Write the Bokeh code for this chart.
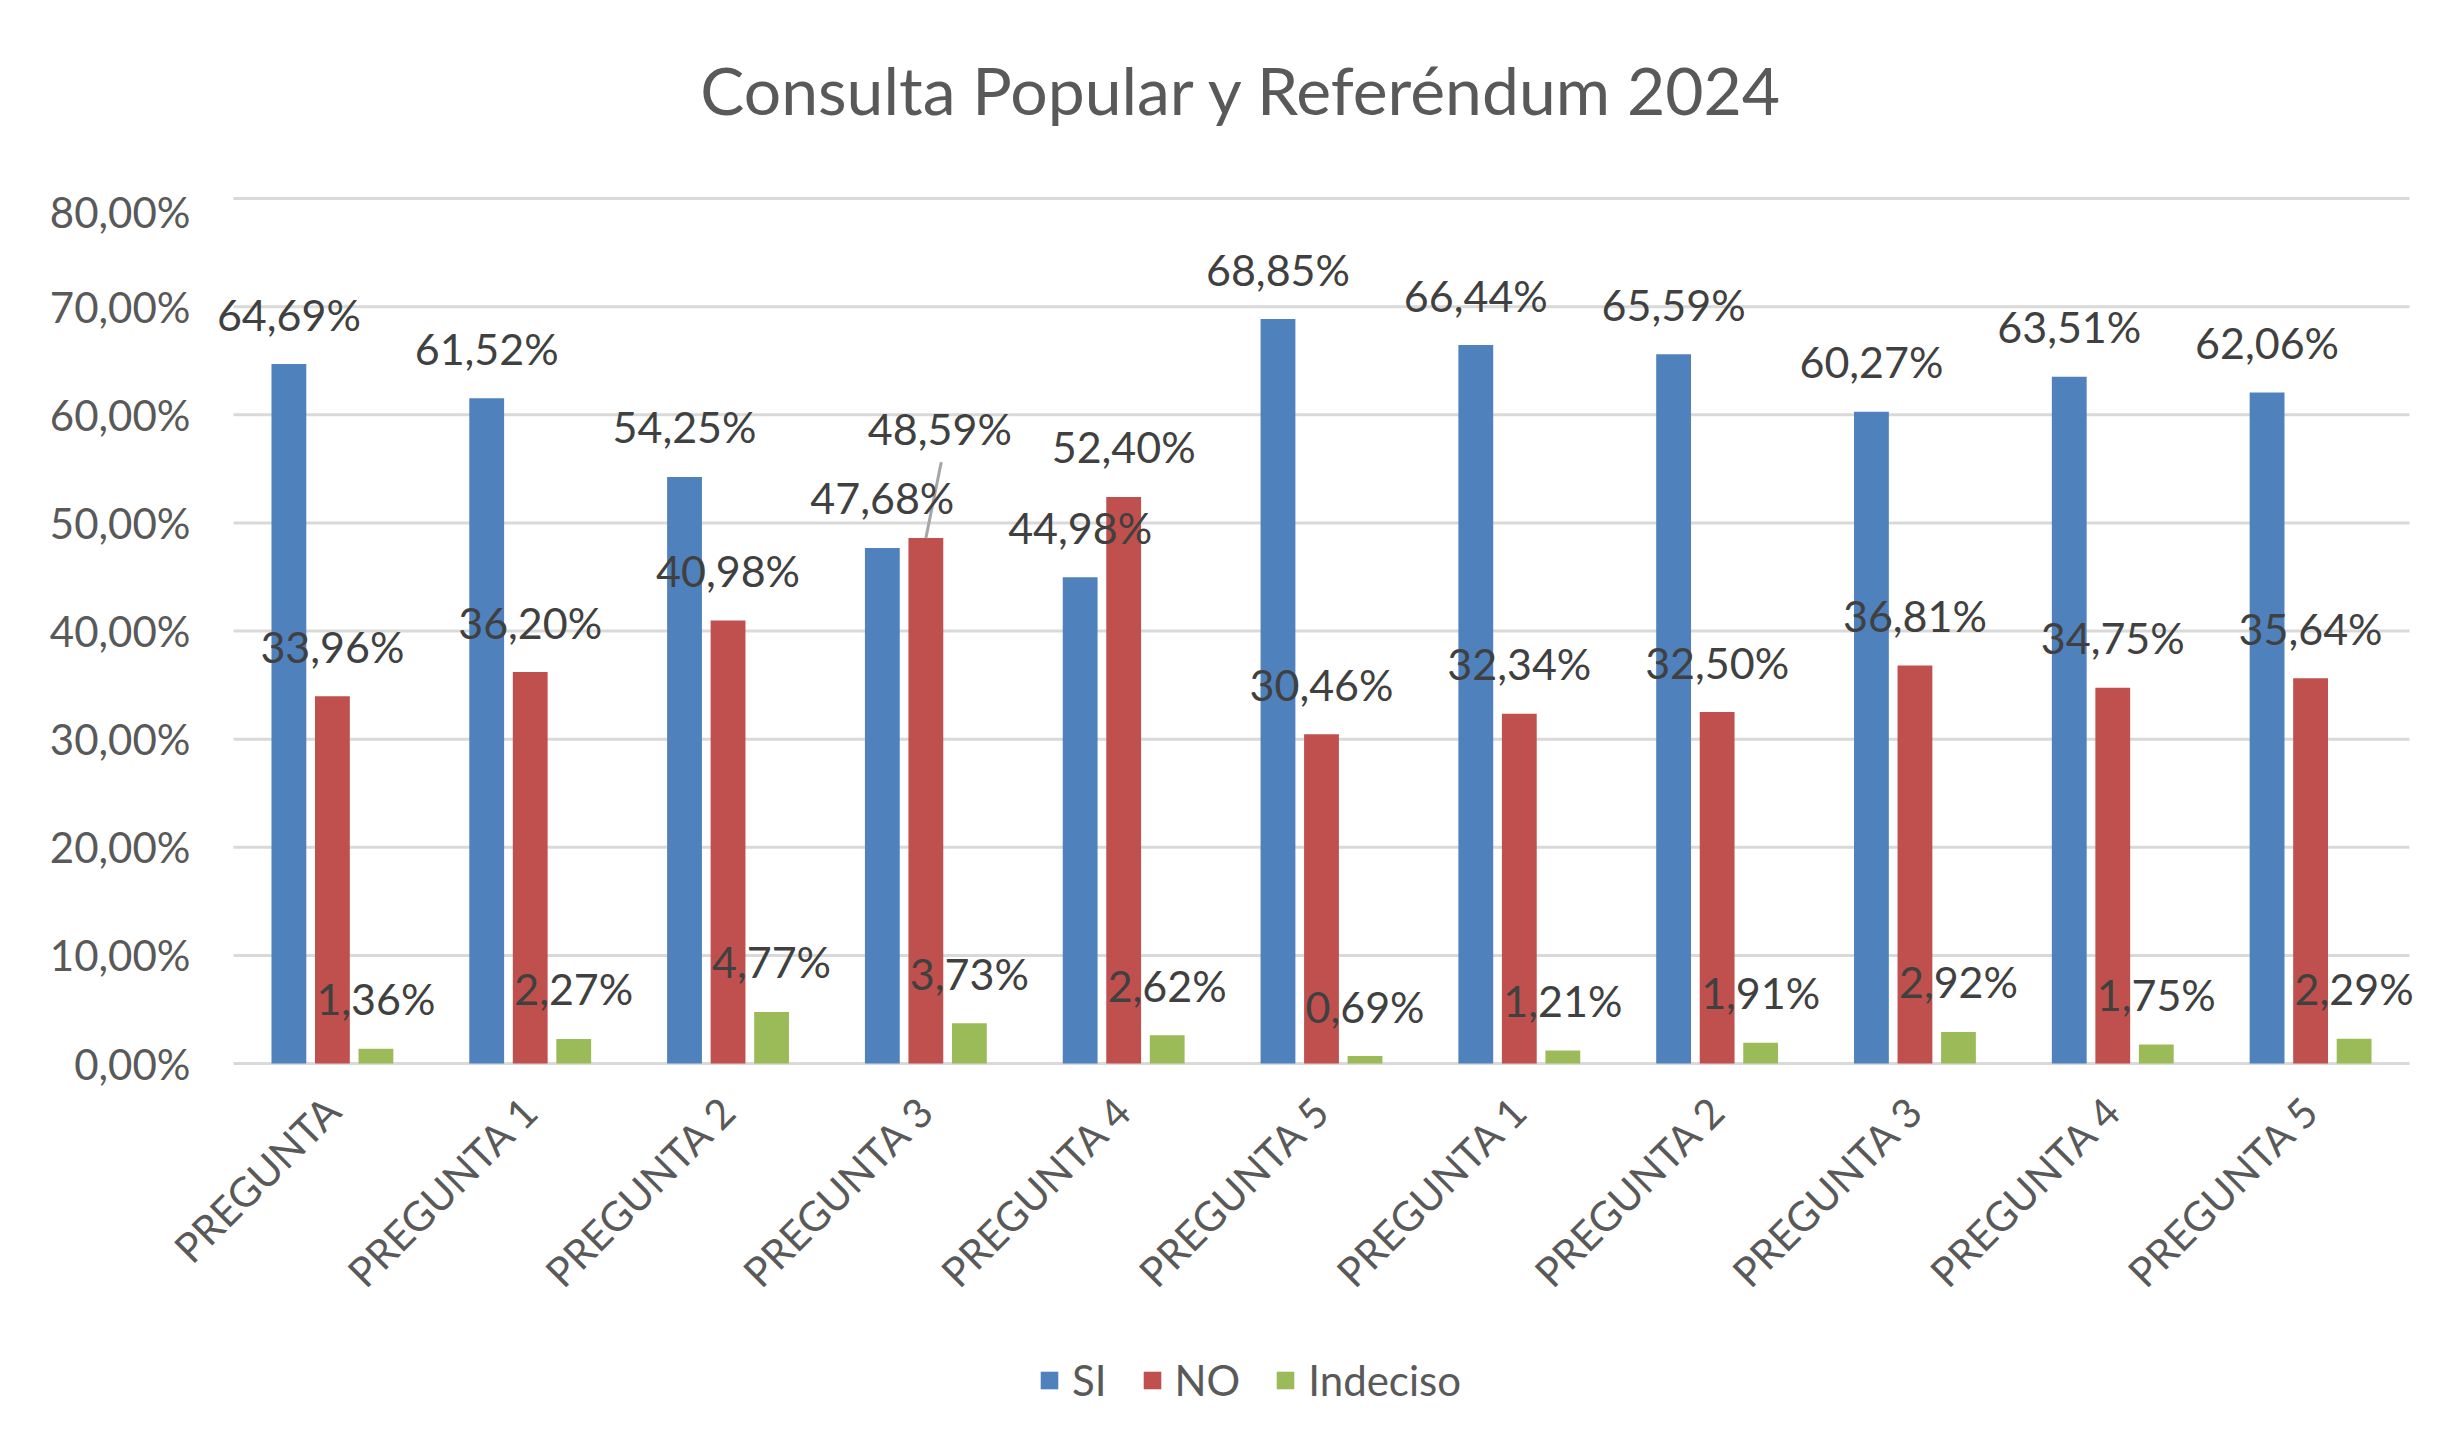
import math
from bokeh.plotting import figure
from bokeh.layouts import column
from bokeh.models import (ColumnDataSource, LabelSet, Label, Legend, LegendItem, FixedTicker,
                          Range1d, Segment)
from bokeh.transform import dodge
from bokeh.core.properties import value
from bokeh.embed import file_html
from bokeh.resources import INLINE

# ---------------- data ----------------
categories = ["PREGUNTA", "PREGUNTA 1", "PREGUNTA 2", "PREGUNTA 3", "PREGUNTA 4", "PREGUNTA 5",
              "PREGUNTA 1", "PREGUNTA 2", "PREGUNTA 3", "PREGUNTA 4", "PREGUNTA 5"]
si = [64.69, 61.52, 54.25, 47.68, 44.98, 68.85, 66.44, 65.59, 60.27, 63.51, 62.06]
no = [33.96, 36.20, 40.98, 48.59, 52.40, 30.46, 32.34, 32.50, 36.81, 34.75, 35.64]
indeciso = [1.36, 2.27, 4.77, 3.73, 2.62, 0.69, 1.21, 1.91, 2.92, 1.75, 2.29]
series_names = ["SI", "NO", "Indeciso"]
y_ticks = [0, 10, 20, 30, 40, 50, 60, 70, 80]
title_text = "Consulta Popular y Referéndum 2024"

# ---------------- style ----------------
W = 2432
H_T, H_MAIN, H_LEG = 186, 1169, 90
PLOT_L, PLOT_R, PLOT_T, PLOT_B = 233, 2409, 198, 1063   # plot area in page px
PAD_L, PAD_R, PAD_Y = 30, 15, 3                          # extra room for labels / lines
TITLE_CX, TITLE_CY = 1242, 89
FONT = "Lato"
colors = ["#4F81BD", "#C0504D", "#9BBB59"]
offsets = [-0.22, 0.0, 0.22]
BAR_W = 0.176
LABEL_UP = 50
GRID = "#d9d9d9"
TXT = "#595959"
LBL = "#404040"
FS = "42px"
FS_LBL = "43px"
FS_X = "41px"
# manually moved data label (series, index): (dx px, dy px)
nudges = {("NO", 3): (14, 110)}


def pct(v):
    return f"{v:.2f}".replace(".", ",") + "%"


idx = list(range(len(categories)))
n = len(categories)
data = {"x": idx}
for name, vals in zip(series_names, [si, no, indeciso]):
    data[name] = vals
    data[name + "_lbl"] = [pct(v) for v in vals]
    data[name + "_dx"] = [nudges.get((name, i), (0, LABEL_UP))[0] for i in idx]
    data[name + "_dy"] = [nudges.get((name, i), (0, LABEL_UP))[1] for i in idx]
src = ColumnDataSource(data)

# scales
ux = (PLOT_R - PLOT_L) / n            # px per category
uy = (PLOT_B - PLOT_T) / y_ticks[-1]  # px per percent
x0, x1 = -0.5, n - 0.5
y0, y1 = y_ticks[0], y_ticks[-1]
B_LEFT = PLOT_L - PAD_L
B_RIGHT = W - PLOT_R - PAD_R
B_TOP = PLOT_T - PAD_Y - H_T
B_BOTTOM = H_T + H_MAIN - PLOT_B - PAD_Y

# ---------------- title strip ----------------
pt = figure(width=W, height=H_T, x_range=Range1d(B_LEFT, W - B_RIGHT), y_range=Range1d(H_T, 0),
            output_backend="svg", toolbar_location=None, min_border=0)
pt.axis.visible = False
pt.grid.visible = False
pt.outline_line_color = None
pt.border_fill_color = "white"
pt.add_layout(Label(x=TITLE_CX, y=TITLE_CY, text=title_text, text_align="center",
                    text_baseline="middle", text_font=FONT, text_font_size="66px",
                    text_color=TXT))

# ---------------- main chart ----------------
p = figure(width=W, height=H_MAIN,
           x_range=Range1d(x0 - PAD_L / ux, x1 + PAD_R / ux),
           y_range=Range1d(y0 - PAD_Y / uy, y1 + PAD_Y / uy),
           output_backend="svg", toolbar_location=None,
           min_border_left=B_LEFT, min_border_right=B_RIGHT,
           min_border_top=B_TOP, min_border_bottom=B_BOTTOM)
p.outline_line_color = None
p.background_fill_color = "white"
p.border_fill_color = "white"

# grid lines drawn over the category span only
p.grid.visible = False
p.segment(x0=[x0] * len(y_ticks), x1=[x1] * len(y_ticks), y0=y_ticks, y1=y_ticks,
          line_color=GRID, line_width=3)

p.yaxis.ticker = FixedTicker(ticks=y_ticks)
p.yaxis.major_label_overrides = {t: pct(t) for t in y_ticks}
p.yaxis.axis_line_color = None
p.yaxis.major_tick_line_color = None
p.yaxis.minor_tick_line_color = None
p.yaxis.major_tick_out = 0
p.yaxis.major_tick_in = 0
p.yaxis.major_label_standoff = 43 - PAD_L
p.yaxis.major_label_text_font = FONT
p.yaxis.major_label_text_font_size = FS
p.yaxis.major_label_text_color = TXT

p.xaxis.ticker = FixedTicker(ticks=idx)
p.xaxis.major_label_overrides = {i: c for i, c in zip(idx, categories)}
p.xaxis.major_label_orientation = math.pi / 4
p.xaxis.axis_line_color = None
p.xaxis.major_tick_line_color = None
p.xaxis.minor_tick_line_color = None
p.xaxis.major_tick_out = 0
p.xaxis.major_tick_in = 0
p.xaxis.major_label_standoff = 37
p.xaxis.major_label_text_font = FONT
p.xaxis.major_label_text_font_size = FS_X
p.xaxis.major_label_text_color = TXT

# bars
for name, col, off in zip(series_names, colors, offsets):
    p.vbar(x=dodge("x", off, range=p.x_range), top=name, width=BAR_W, source=src,
           fill_color=col, line_color=None)

# leader line for moved label
for (name, i), (dx, dy) in nudges.items():
    s = series_names.index(name)
    v = data[name][i]
    p.add_glyph(ColumnDataSource(dict(x0=[i + offsets[s]], y0=[v],
                                      x1=[i + offsets[s] + dx * 1.1 / ux],
                                      y1=[v + (dy - 34) / uy])),
                Segment(x0="x0", y0="y0", x1="x1", y1="y1", line_color="#a6a6a6", line_width=3))

# data labels
for name, off in zip(series_names, offsets):
    ls = LabelSet(x=dodge("x", off, range=p.x_range), y=name, text=name + "_lbl", source=src,
                  x_offset=name + "_dx", y_offset=name + "_dy",
                  text_align="center", text_baseline="middle",
                  text_font=value(FONT), text_font_size=value(FS_LBL), text_color=LBL)
    p.add_layout(ls)

# ---------------- legend strip (frames of the column are aligned) ----------------
pl = figure(width=W, height=H_LEG, x_range=Range1d(0, 1), y_range=Range1d(0, 1),
            output_backend="svg", toolbar_location=None, min_border=0)
pl.axis.visible = False
pl.grid.visible = False
pl.outline_line_color = None
pl.border_fill_color = "white"
proxy = ColumnDataSource(dict(x=[0.0], top=[0.0]))
leg_r = [pl.vbar(x="x", top="top", width=0.0, source=proxy, fill_color=c, line_color=None)
         for c in colors]
legend = Legend(items=[LegendItem(label=nm, renderers=[r]) for nm, r in zip(series_names, leg_r)],
                orientation="horizontal", location=(1038 - B_LEFT, 40),
                glyph_width=22, glyph_height=22, label_standoff=12, spacing=34,
                padding=0, margin=0, border_line_color=None, background_fill_alpha=0,
                label_text_font=FONT, label_text_font_size=FS, label_text_color=TXT)
pl.add_layout(legend)

layout = column(pt, p, pl, spacing=0)
open("out.html", "w").write(file_html(layout, INLINE))
